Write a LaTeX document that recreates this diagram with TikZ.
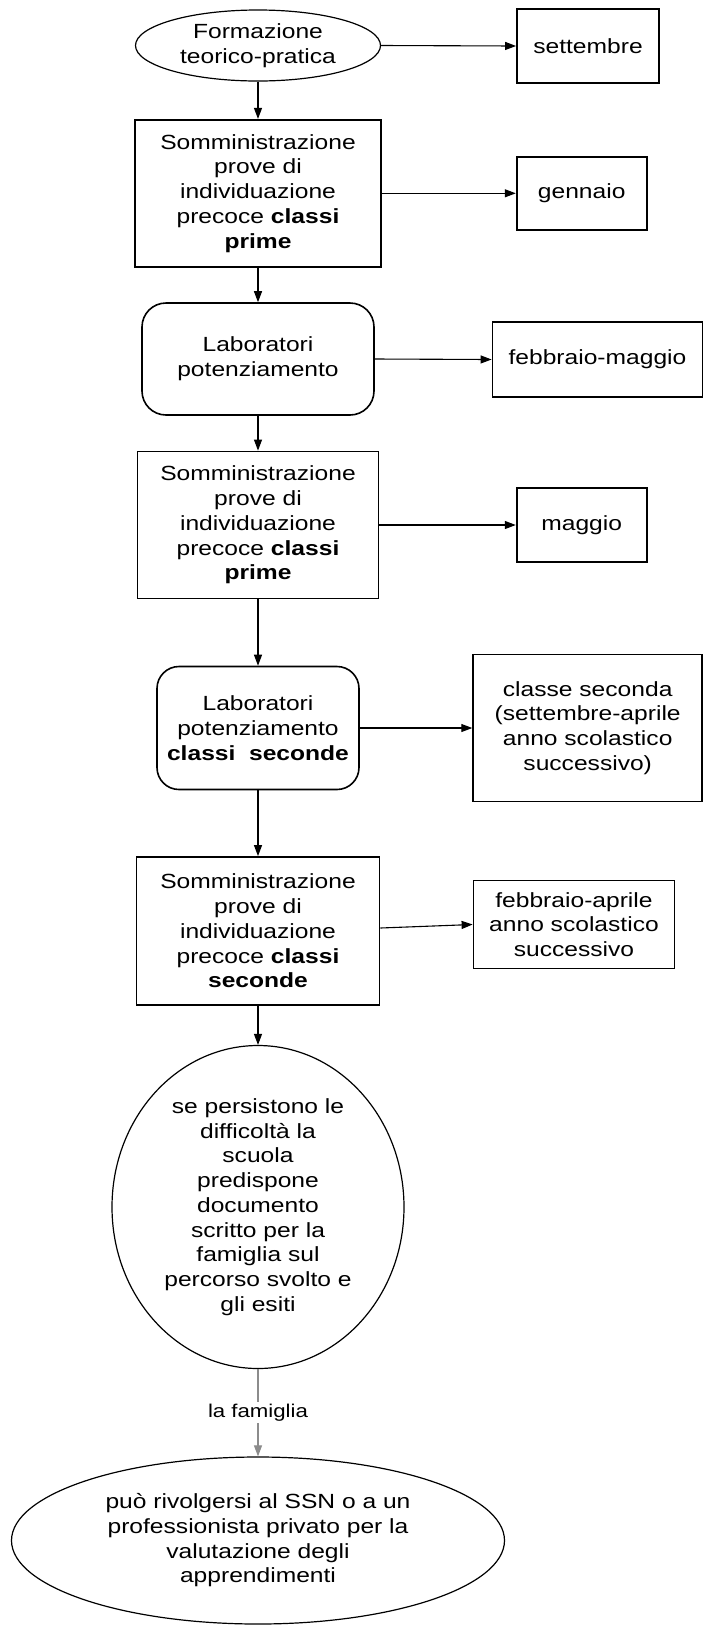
\documentclass[tikz,border=0pt]{standalone}
\usepackage{fontspec}
\setmainfont{Liberation Sans}[FakeStretch=1.2]
\usetikzlibrary{positioning,arrows.meta,shapes.geometric}
\definecolor{lineCol}{RGB}{0,0,0}
\definecolor{famCol}{RGB}{140,140,140}
\tikzset{
  txt/.style={font=\fontsize{20.5pt}{24.7pt}\selectfont,align=center,
    inner sep=0pt},
  task/.style={rectangle,draw=lineCol,line width=1.8pt,txt},
  lab/.style={rectangle,rounded corners=24pt,draw=lineCol,
    line width=1.6pt,txt},
  oval/.style={ellipse,draw=lineCol,line width=1.2pt,txt},
  month/.style={task},
  lbl/.style={font=\fontsize{18.5pt}{22pt}\selectfont,fill=white,
    text=black,inner sep=2pt},
  arr/.style={-{Triangle[length=11pt,width=8pt]},line width=1.1pt,
    color=lineCol},
  famarr/.style={arr,color=famCol},
}

\begin{document}
\begin{tikzpicture}[x=1pt,y=1pt]
\useasboundingbox (0,0) rectangle (703,-1626);

% =====================================================================
%  MAIN COLUMN — activities, top to bottom
% =====================================================================
\node[oval,minimum width=245pt,minimum height=71pt] (form) at (258,-45.5)
  {Formazione\\teorico-pratica};
\node[task,minimum width=246pt,minimum height=147pt] (som1) at (258,-193.3)
  {Somministrazione\\prove di\\individuazione\\precoce \textbf{classi}\\\textbf{prime}};
\node[lab,minimum width=232pt,minimum height=112pt] (lab1) at (258,-359)
  {Laboratori\\potenziamento};
\node[task,minimum width=241pt,minimum height=147pt] (som2) at (258,-525)
  {Somministrazione\\prove di\\individuazione\\precoce \textbf{classi}\\\textbf{prime}};
\node[lab,rounded corners=22pt,minimum width=202pt,minimum height=123pt]
  (lab2) at (258,-728)
  {Laboratori\\potenziamento\\\textbf{classi\ \ seconde}};
\node[task,minimum width=243pt,minimum height=148pt] (som3) at (258,-931)
  {Somministrazione\\prove di\\individuazione\\precoce \textbf{classi}\\\textbf{seconde}};
\node[oval,minimum width=292pt,minimum height=323pt] (diff) at (258,-1207)
  {se persistono le\\difficoltà la\\scuola\\predispone\\documento\\scritto per la\\famiglia sul\\percorso svolto e\\gli esiti};
\node[oval,minimum width=493pt,minimum height=167pt] (valut) at (258,-1540.5)
  {può rivolgersi al SSN o a un\\professionista privato per la\\valutazione degli\\apprendimenti};

% =====================================================================
%  RIGHT COLUMN — when each step happens
% =====================================================================
\node[month,minimum width=142pt,minimum height=74pt] (sett) at (588,-46)
  {settembre};
\node[month,minimum width=130pt,minimum height=73pt] (genn) at (581.7,-193.3)
  {gennaio};
\node[month,minimum width=210pt,minimum height=75pt] (febmag) at (597.5,-359.5)
  {febbraio-maggio};
\node[month,minimum width=130pt,minimum height=74pt] (mag) at (581.7,-525)
  {maggio};
\node[month,minimum width=229pt,minimum height=147pt] (cls2) at (587.7,-728)
  {classe seconda\\(settembre-aprile\\anno scolastico\\successivo)};
\node[month,minimum width=201pt,minimum height=88pt] (febapr) at (574,-924.5)
  {febbraio-aprile\\anno scolastico\\successivo};

% ----- Arrows down the main column -----
\draw[arr] (form) -- (som1);
\draw[arr] (som1) -- (lab1);
\draw[arr] (lab1) -- (som2);
\draw[arr] (som2) -- (lab2);
\draw[arr] (lab2) -- (som3);
\draw[arr] (som3) -- (diff);

% la famiglia (grey, label on the line)
\draw[famarr] (diff) -- node[lbl] {la famiglia} (valut);

% ----- Arrows to the months -----
\draw[arr] (form.east) -- (sett.west);
\draw[arr] (som1.east) -- (genn.west);
\draw[arr] (lab1.east) -- (febmag.west);
\draw[arr] (som2.east) -- (mag.west);
\draw[arr] (lab2.east) -- (cls2.west);
\draw[arr] ([yshift=3pt]som3.east) -- (febapr.west);

\end{tikzpicture}
\end{document}
